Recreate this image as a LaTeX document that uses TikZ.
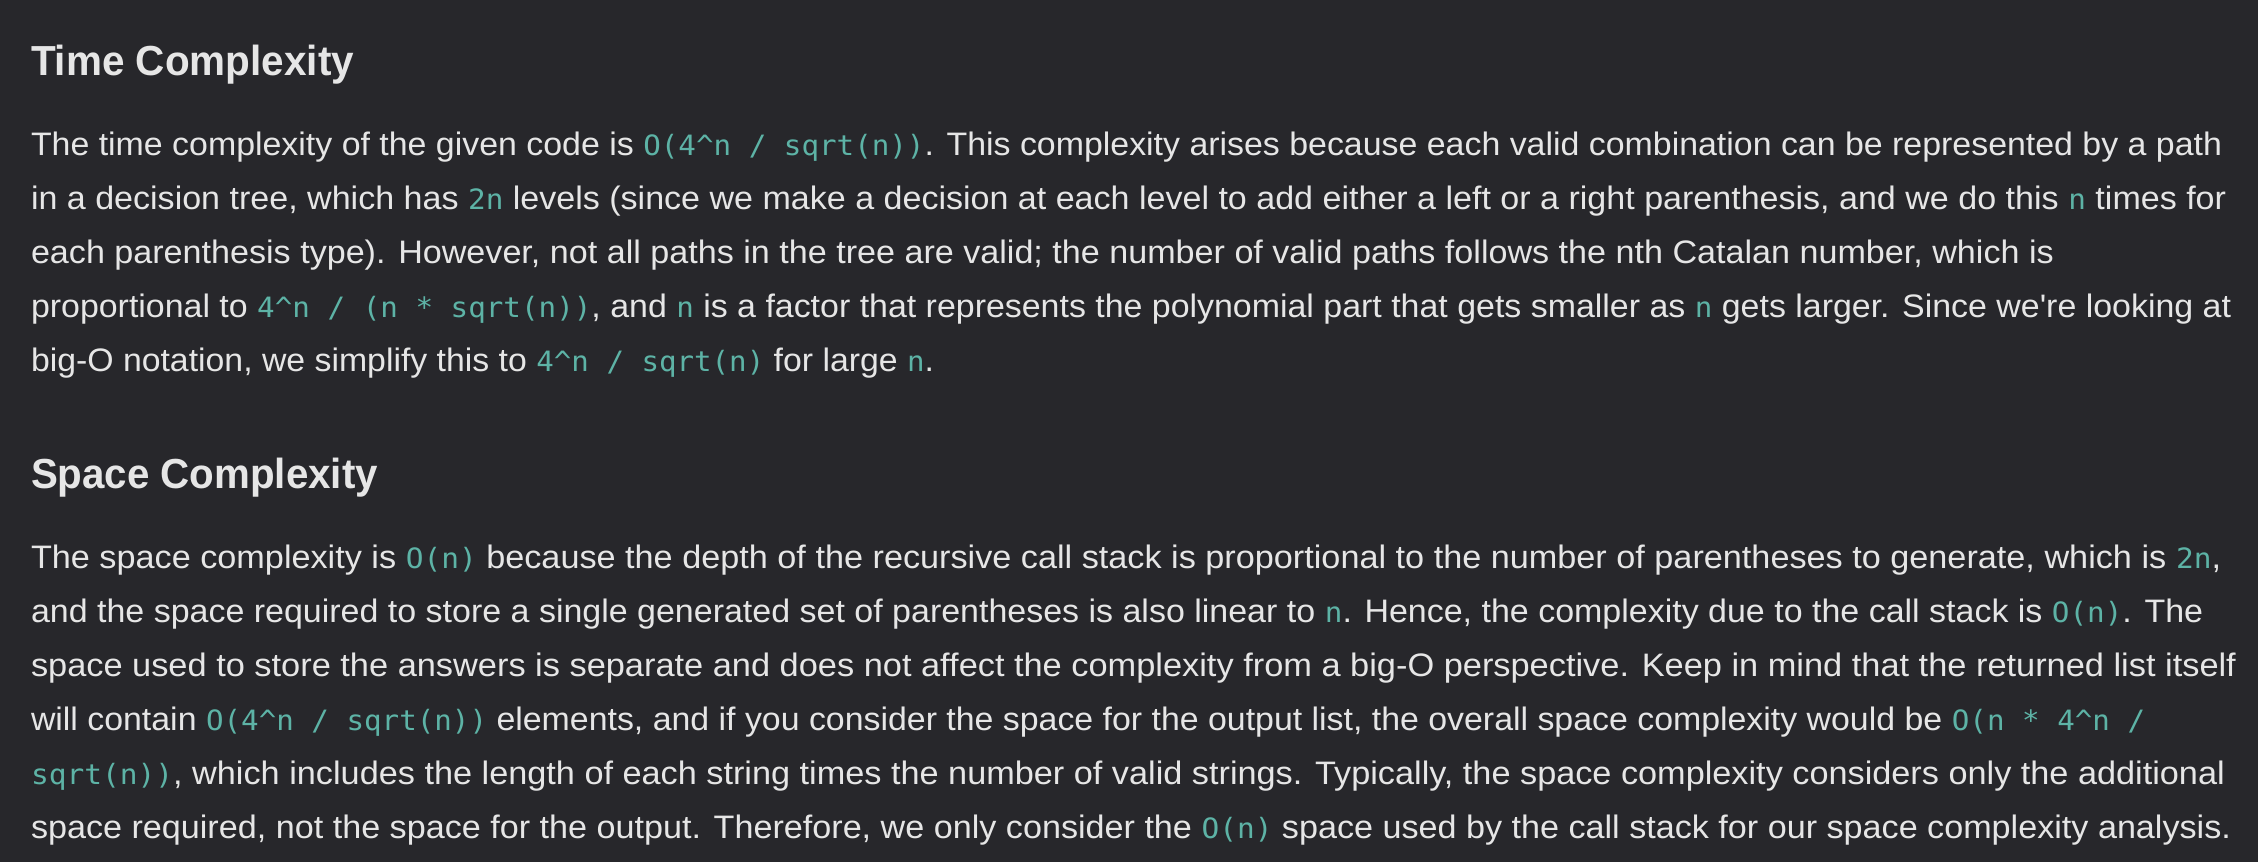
\documentclass[tikz,border=0pt]{standalone}
\usepackage{fontspec}
\usepackage{graphicx}
\setmainfont{Liberation Sans}
\newfontfamily\codefont{DejaVu Sans Mono}
\definecolor{bgc}{HTML}{27272B}
\definecolor{txtc}{HTML}{E6E6E6}
\definecolor{codec}{HTML}{5DB3A6}
\newcommand\codetxt[1]{{\codefont\fontsize{28}{28}\selectfont\color{codec}#1}}
\newcommand\fitline[2]{\resizebox{#1}{\height}{#2}}
\newcommand\caret{\textasciicircum}
\tikzset{
  bodyline/.style={anchor=base west, inner sep=0pt, outer sep=0pt, text=txtc, font=\fontsize{32.5}{32.5}\selectfont},
  headline/.style={anchor=base west, inner sep=0pt, outer sep=0pt, text=txtc, font=\bfseries\fontsize{42}{42}\selectfont}
}
\begin{document}
\begin{tikzpicture}[x=1pt,y=-1pt]
\path[use as bounding box, fill=bgc] (0,0) rectangle (2258,862);
% Time complexity
\node[headline] (h1) at (31,75) {\fitline{323pt}{Time Complexity}};
\node[bodyline] (a1) at (31,155) {\fitline{2191pt}{The time complexity of the given code is \codetxt{O(4\caret n / sqrt(n))}. This complexity arises because each valid combination can be represented by a path}};
\node[bodyline] (a2) at (31,209) {\fitline{2195pt}{in a decision tree, which has \codetxt{2n} levels (since we make a decision at each level to add either a left or a right parenthesis, and we do this \codetxt{n} times for}};
\node[bodyline] (a3) at (31,263) {\fitline{2023pt}{each parenthesis type). However, not all paths in the tree are valid; the number of valid paths follows the nth Catalan number, which is}};
\node[bodyline] (a4) at (31,317) {\fitline{2200pt}{proportional to \codetxt{4\caret n / (n * sqrt(n))}, and \codetxt{n} is a factor that represents the polynomial part that gets smaller as \codetxt{n} gets larger. Since we\textquotesingle re looking at}};
\node[bodyline] (a5) at (31,371) {\fitline{903pt}{big-O notation, we simplify this to \codetxt{4\caret n / sqrt(n)} for large \codetxt{n}.}};
% Space complexity
\node[headline] (h2) at (31,488) {\fitline{347pt}{Space Complexity}};
\node[bodyline] (b1) at (31,568) {\fitline{2190pt}{The space complexity is \codetxt{O(n)} because the depth of the recursive call stack is proportional to the number of parentheses to generate, which is \codetxt{2n},}};
\node[bodyline] (b2) at (31,622) {\fitline{2172pt}{and the space required to store a single generated set of parentheses is also linear to \codetxt{n}. Hence, the complexity due to the call stack is \codetxt{O(n)}. The}};
\node[bodyline] (b3) at (31,676) {\fitline{2205pt}{space used to store the answers is separate and does not affect the complexity from a big-O perspective. Keep in mind that the returned list itself}};
\node[bodyline] (b4) at (31,730) {\fitline{2114pt}{will contain \codetxt{O(4\caret n / sqrt(n))} elements, and if you consider the space for the output list, the overall space complexity would be \codetxt{O(n * 4\caret n /}}};
\node[bodyline] (b5) at (31,784) {\fitline{2194pt}{\codetxt{sqrt(n))}, which includes the length of each string times the number of valid strings. Typically, the space complexity considers only the additional}};
\node[bodyline] (b6) at (31,838) {\fitline{2200pt}{space required, not the space for the output. Therefore, we only consider the \codetxt{O(n)} space used by the call stack for our space complexity analysis.}};
\end{tikzpicture}
\end{document}
